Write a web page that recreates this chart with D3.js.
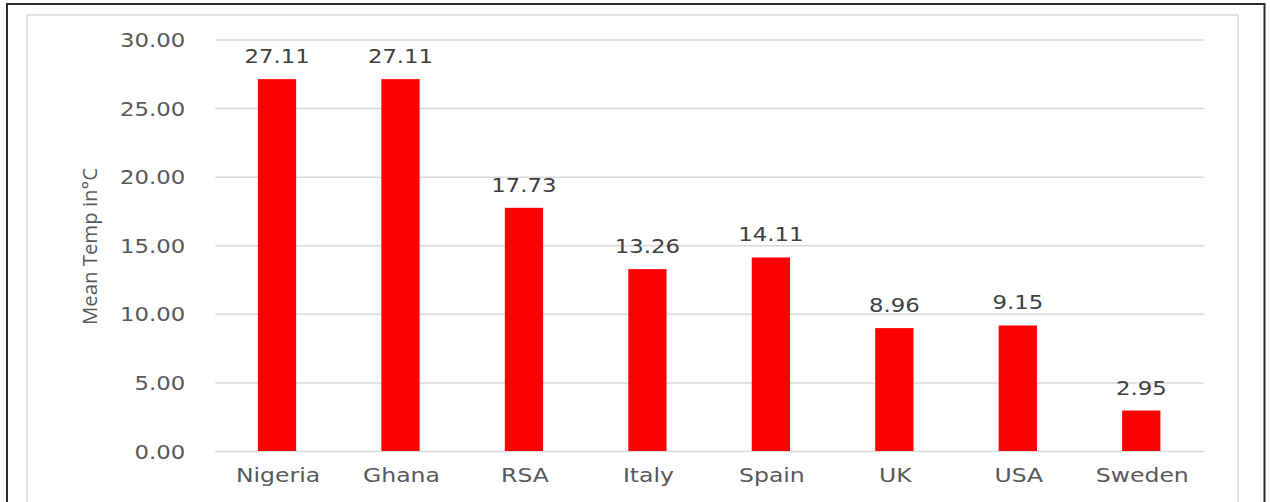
<!DOCTYPE html>
<html><head><meta charset="utf-8">
<script src="https://cdn.jsdelivr.net/npm/d3@7"></script>
<style>body{margin:0;background:#fff}svg{display:block}</style>
</head><body>
<svg id="c" width="1270" height="502"></svg>
<script>
const categories = ["Nigeria","Ghana","RSA","Italy","Spain","UK","USA","Sweden"];
const values = [27.11,27.11,17.73,13.26,14.11,8.96,9.15,2.95];
const yTicks = [0,5,10,15,20,25,30];
const yTitle = "Mean Temp in°C";

const svg = d3.select("#c");
const SX = 1.2;
// frames
svg.append("rect").attr("x",7).attr("y",4).attr("width",1257.5).attr("height",520)
  .attr("fill","none").attr("stroke","#2b2b2b").attr("stroke-width",2);
svg.append("rect").attr("x",27).attr("y",15).attr("width",1211).attr("height",500)
  .attr("fill","none").attr("stroke","#d9d9d9").attr("stroke-width",1.5);

const x = d3.scaleBand().domain(categories).range([215.3,1203]).paddingInner(0.69).paddingOuter(0.345);
const y = d3.scaleLinear().domain([0,30]).range([451,39.5]);

// grid + y labels
const ax = svg.append("g").attr("transform","translate(215.3,0)")
  .call(d3.axisLeft(y).tickValues(yTicks).tickFormat(d3.format(".2f")).tickSize(-(1204-215.3)));
ax.select(".domain").remove();
ax.selectAll(".tick line").attr("stroke","#d9d9d9").attr("stroke-width",1.5);
ax.selectAll(".tick text").attr("x",null).attr("dy",null)
  .attr("transform",`translate(-30,7) scale(${SX},1)`)
  .attr("text-anchor","end").attr("fill","#595959")
  .style("font-family","'DejaVu Sans'").style("font-size","19px");

// bars
svg.append("g").selectAll("rect").data(values).join("rect")
  .attr("x",(d,i)=>x(categories[i])).attr("width",x.bandwidth())
  .attr("y",d=>y(d)).attr("height",d=>y(0)-y(d)).attr("fill","#ff0000");

// value labels
svg.append("g").selectAll("text").data(values).join("text")
  .attr("transform",(d,i)=>`translate(${x(categories[i])+x.bandwidth()/2},${y(d)-16}) scale(${SX},1)`)
  .attr("text-anchor","middle").attr("fill","#404040")
  .style("font-family","'DejaVu Sans'").style("font-size","19px")
  .text(d=>d.toFixed(2));

// x labels
const xa = svg.append("g").attr("transform","translate(0,451)")
  .call(d3.axisBottom(x).tickSize(0));
xa.select(".domain").remove();
xa.selectAll(".tick text").attr("y",null).attr("dy",null)
  .attr("transform",`translate(1,31) scale(1.24,1)`)
  .attr("fill","#595959")
  .style("font-family","'DejaVu Sans'").style("font-size","19px");

// y title
svg.append("text").attr("transform","translate(97,246.5) rotate(-90)")
  .attr("text-anchor","middle").attr("fill","#595959")
  .attr("textLength",157).attr("lengthAdjust","spacingAndGlyphs")
  .style("font-family","'Open Sans'").style("font-weight","400").style("font-size","20px")
  .text(yTitle);
</script>
</body></html>
